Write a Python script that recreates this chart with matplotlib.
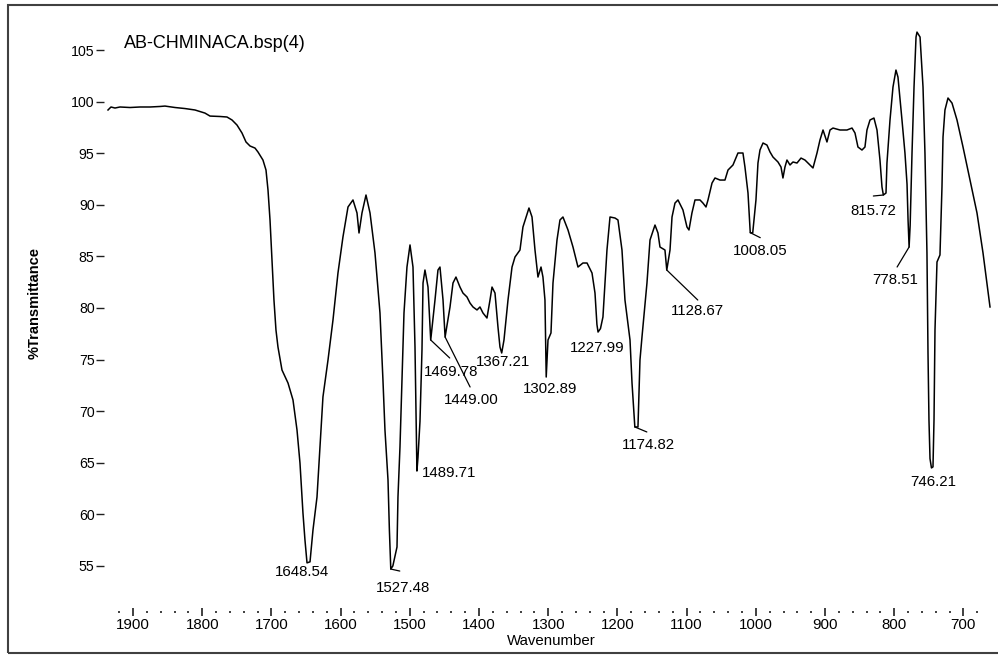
import numpy as np
import matplotlib
matplotlib.use('Agg')
import matplotlib.pyplot as plt
from matplotlib.patches import Rectangle
from matplotlib.ticker import FixedLocator

plt.rcParams['font.family'] = ['Liberation Sans', 'DejaVu Sans']

# IR spectrum: wavenumber (cm-1) and % transmittance
wavenumber = [
    1936.1, 1931.8, 1926.0, 1918.8, 1904.3, 1889.9, 1875.4, 1861.0, 1853.8, 1839.3,
    1824.9, 1810.4, 1796.0, 1788.7, 1774.3, 1764.2, 1756.9, 1749.7, 1742.5, 1736.7,
    1730.9, 1723.7, 1719.4, 1712.2, 1707.8, 1704.9, 1702.0, 1699.1, 1696.3, 1693.4,
    1690.5, 1684.7, 1676.0, 1668.8, 1663.0, 1658.7, 1654.4, 1651.5, 1648.54, 1644.2,
    1639.9, 1634.1, 1629.8, 1625.5, 1618.2, 1611.0, 1603.8, 1596.6, 1589.3, 1582.1,
    1576.3, 1573.4, 1569.1, 1563.3, 1557.5, 1550.3, 1543.1, 1538.8, 1535.9, 1531.5,
    1529.5, 1527.48, 1524.5, 1518.5, 1517.1, 1514.2, 1511.3, 1508.4, 1504.1, 1499.7,
    1495.4, 1492.5, 1491.0, 1489.71, 1488.2, 1485.3, 1482.4, 1480.9, 1478.1, 1473.7,
    1469.78, 1463.6, 1459.3, 1456.4, 1452.0, 1449.00, 1441.9, 1437.6, 1433.3, 1427.5,
    1423.2, 1417.4, 1413.0, 1408.7, 1402.9, 1398.6, 1394.3, 1388.5, 1384.1, 1381.2,
    1376.9, 1372.6, 1369.7, 1367.21, 1363.9, 1358.1, 1352.3, 1348.0, 1340.8, 1336.5,
    1327.8, 1323.4, 1319.1, 1314.8, 1310.4, 1307.6, 1304.7, 1302.89, 1300.3, 1296.0,
    1293.1, 1287.3, 1283.0, 1278.7, 1271.4, 1264.2, 1257.0, 1249.8, 1243.9, 1236.7,
    1232.4, 1229.6, 1227.99, 1224.5, 1220.9, 1215.1, 1210.7, 1203.5, 1199.2, 1193.4,
    1189.1, 1181.8, 1178.9, 1174.82, 1170.3, 1167.4, 1164.5, 1157.3, 1152.9, 1145.7,
    1141.4, 1138.5, 1131.3, 1128.67, 1124.0, 1121.1, 1116.8, 1112.5, 1105.3, 1099.5,
    1096.6, 1092.3, 1087.9, 1080.7, 1076.4, 1072.0, 1069.1, 1063.3, 1059.0, 1051.8,
    1044.6, 1040.2, 1033.0, 1025.8, 1018.6, 1015.7, 1011.3, 1008.05, 1004.5, 999.8,
    996.9, 994.0, 989.6, 983.9, 979.5, 975.2, 968.0, 963.6, 960.8, 957.9,
    955.0, 950.6, 946.3, 940.5, 934.7, 929.0, 921.7, 917.4, 911.6, 907.3,
    902.9, 897.2, 892.8, 888.5, 878.4, 868.3, 861.0, 856.7, 852.4, 846.6,
    842.3, 839.4, 835.0, 829.3, 824.9, 820.6, 817.7, 815.72, 811.9, 810.5,
    806.1, 801.8, 797.5, 794.6, 788.8, 784.5, 781.5, 780.0, 778.51, 777.0,
    774.3, 771.4, 768.5, 767.1, 762.7, 758.4, 755.6, 752.7, 751.2, 749.8,
    748.3, 746.21, 744.0, 742.5, 741.1, 738.2, 733.9, 731.0, 729.5, 726.7,
    722.3, 716.5, 709.3, 700.6, 690.5, 680.4, 671.7, 661.6,
]
transmittance = [
    99.19, 99.48, 99.38, 99.48, 99.43, 99.48, 99.48, 99.53, 99.57, 99.43,
    99.33, 99.19, 98.89, 98.60, 98.56, 98.51, 98.22, 97.73, 96.96, 96.09,
    95.70, 95.50, 95.12, 94.34, 93.37, 91.43, 88.53, 84.65, 80.78, 77.87,
    76.22, 73.99, 72.73, 71.09, 68.18, 64.98, 60.14, 57.52, 55.30, 55.40,
    58.49, 61.68, 66.53, 71.38, 74.96, 78.84, 83.39, 86.88, 89.79, 90.47,
    89.21, 87.27, 89.21, 90.95, 89.21, 85.33, 79.52, 73.02, 68.18, 63.33,
    58.49, 54.70, 55.00, 56.84, 61.68, 66.53, 73.02, 79.52, 83.97, 86.11,
    83.97, 76.22, 70.00, 64.20, 65.50, 69.00, 75.93, 82.42, 83.68, 82.03,
    76.90, 80.78, 83.68, 83.97, 80.78, 77.19, 80.10, 82.42, 83.00, 82.03,
    81.45, 81.07, 80.48, 80.10, 79.81, 80.10, 79.52, 79.03, 80.78, 82.03,
    81.45, 78.16, 76.22, 75.64, 76.90, 80.78, 83.97, 84.94, 85.62, 87.85,
    89.69, 88.82, 85.62, 83.00, 83.97, 83.00, 80.78, 73.31, 76.90, 77.58,
    82.42, 86.59, 88.53, 88.82, 87.56, 85.91, 83.97, 84.36, 84.36, 83.39,
    81.45, 78.40, 77.67, 78.00, 79.13, 85.62, 88.82, 88.72, 88.53, 85.62,
    80.78, 76.90, 72.73, 68.47, 68.47, 74.96, 77.19, 82.42, 86.59, 88.04,
    87.27, 85.91, 85.62, 83.68, 85.62, 88.82, 90.17, 90.47, 89.50, 87.85,
    87.56, 89.21, 90.47, 90.47, 90.17, 89.79, 90.47, 92.11, 92.60, 92.40,
    92.40, 93.37, 93.86, 95.02, 95.02, 93.66, 91.14, 87.30, 87.27, 90.47,
    94.05, 95.31, 95.99, 95.79, 95.12, 94.63, 94.15, 93.66, 92.60, 93.66,
    94.34, 93.86, 94.15, 94.05, 94.53, 94.34, 93.86, 93.57, 95.02, 96.28,
    97.25, 96.09, 97.25, 97.44, 97.25, 97.25, 97.44, 96.96, 95.60, 95.31,
    95.60, 97.25, 98.22, 98.41, 97.25, 94.34, 91.73, 90.95, 91.14, 94.05,
    98.22, 101.41, 103.06, 102.38, 98.22, 95.02, 92.00, 88.50, 85.91, 88.00,
    95.02, 101.41, 106.26, 106.74, 106.26, 101.41, 95.02, 85.33, 75.64, 69.15,
    65.40, 64.50, 64.60, 69.20, 77.87, 84.46, 85.14, 91.73, 96.57, 99.19,
    100.35, 99.86, 98.22, 95.60, 92.40, 89.21, 85.33, 80.10,
]

# picked bands (cm-1)
peak_labels = [1648.54, 1527.48, 1489.71, 1469.78, 1449.00, 1367.21, 1302.89,
               1227.99, 1174.82, 1128.67, 1008.05, 815.72, 778.51, 746.21]

# label placement in pixels from the band: text offset and leader end (None = no leader)
label_offsets = [(-32, -9), (-15, -19), (5, -2), (-7, -32), (-1, -63), (-26, -9), (-23, -12),
                 (-28, -16), (-13, -18), (4, -41), (-17, -18), (-33, -16), (-37, -33), (-21, -14)]
leader_ends = [None, (9, -2), None, (19, -18), (25, -50), None, None,
               None, (12, -5), (31, -30), (10, -5), (-10, -1), (-12, -20), None]

fig = plt.figure(figsize=(9.98, 6.56), dpi=100)
ax = fig.add_axes([0.1042, 0.0671, 0.8898, 0.9024])
ax.plot(wavenumber, transmittance, color='black', lw=1.1)
ax.set_xlim(1941.9, 658.7)
ax.set_ylim(50.54, 107.91)

for s in ax.spines.values():
    s.set_visible(False)

ax.xaxis.set_major_locator(FixedLocator(range(700, 2000, 100)))
ax.xaxis.set_minor_locator(FixedLocator([v for v in range(680, 1940, 20) if v % 100]))
ax.yaxis.set_major_locator(FixedLocator(range(55, 110, 5)))
ax.tick_params(axis='x', which='major', direction='inout', length=6, width=1.2,
               pad=1, labelsize=10.8, color='#202020')
ax.tick_params(axis='x', which='minor', direction='inout', length=2, width=1.2, color='#202020')
ax.tick_params(axis='y', direction='out', length=5.8, width=1.0, pad=1,
               labelsize=10.2, color='#202020')

wn_inc = np.array(wavenumber[::-1])
t_inc = np.array(transmittance[::-1])
for wn, (dx, dy), lead in zip(peak_labels, label_offsets, leader_ends):
    t = np.interp(wn, wn_inc, t_inc)
    if lead is not None:
        ax.annotate('', xy=(wn, t), xytext=lead, textcoords='offset pixels',
                    arrowprops=dict(arrowstyle='-', lw=0.9, color='black',
                                    shrinkA=0, shrinkB=0))
    ax.annotate(f'{wn:.2f}', xy=(wn, t), xytext=(dx, dy), textcoords='offset pixels',
                ha='left', va='center', fontsize=10.8)

fig.text(124 / 998, 1 - 43 / 656, 'AB-CHMINACA.bsp(4)', ha='left', va='center', fontsize=13)
fig.text(35 / 998, 1 - 303 / 656, '%Transmittance', rotation=90, ha='center', va='center',
         fontsize=10.5, fontweight='bold')
fig.text(551 / 998, 1 - 641 / 656, 'Wavenumber', ha='center', va='center', fontsize=10.8)

# outer frame around the whole chart
fig.add_artist(Rectangle((8 / 998, 3 / 656), 992 / 998, 648 / 656, transform=fig.transFigure,
                         fill=False, edgecolor='#404040', lw=1.5))

fig.savefig('out.png', dpi=100)
